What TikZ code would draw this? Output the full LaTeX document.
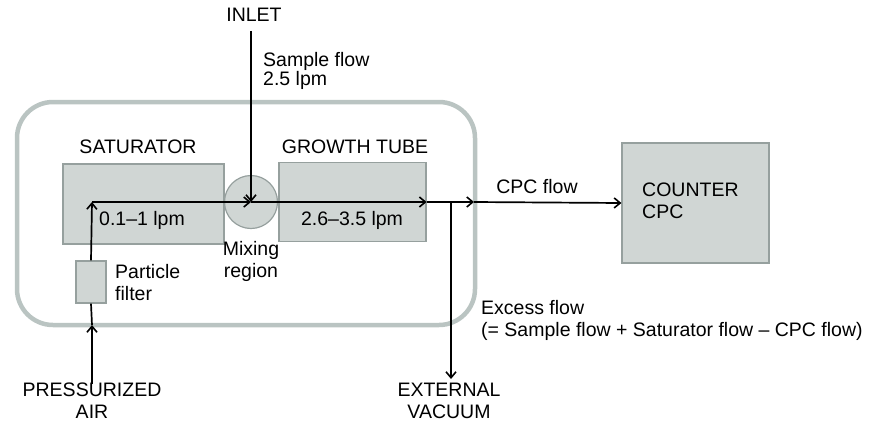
\documentclass[tikz,border=0pt]{standalone}
\usepackage{fontspec}
\setmainfont{Liberation Sans}
\usepackage{tikz}
\usetikzlibrary{arrows.meta, positioning}
\definecolor{boxgray}{RGB}{208,214,212}
\definecolor{edgegray}{RGB}{150,160,158}
\definecolor{wallgray}{RGB}{186,196,194}

\begin{document}
\begin{tikzpicture}[x=1pt, y=-1pt,
		font=\fontsize{19.5}{22}\selectfont,
		box/.style={draw=edgegray, fill=boxgray, line width=1.2pt, inner sep=0pt},
		flow/.style={line width=1.7pt, -{Straight Barb[length=6pt, width=10pt, line width=1.6pt]}},
		pipe/.style={line width=1.7pt},
		lbl/.style={inner sep=0pt, align=left}]
		\useasboundingbox (0,0) rectangle (877,426);
		% instrument housing
		\draw[wallgray, line width=4.5pt, rounded corners=36pt] (17,102) rectangle (475,325);
		% boxes
		\node[box, minimum width=161pt, minimum height=80pt] (sat) at (143.5,204) {};
		\node[box, minimum width=147pt, minimum height=79pt] (grow) at (352.5,202) {};
		\node[box, circle, minimum size=53pt] (mix) at (251,202) {};
		\node[box, minimum width=30pt, minimum height=42pt] (filt) at (91,282) {};
		\node[box, minimum width=147pt, minimum height=120pt] (ctr) at (695.5,203) {};
		% labels
		\node[lbl] (inlet) at (254,15) {INLET};
		\node[lbl, anchor=west, font=\fontsize{19.5}{17}\selectfont] (sample) at (263,71) {Sample flow\\2.5 lpm};
		\node[lbl] (satlbl) at (138,147) {SATURATOR};
		\node[lbl] (growlbl) at (355,147) {GROWTH TUBE};
		\node[lbl, anchor=west] (satflow) at (99,220) {0.1--1 lpm};
		\node[lbl] (growflow) at (352,220) {2.6--3.5 lpm};
		\node[lbl, align=center] (mixlbl) at (251,261) {Mixing\\region};
		\node[lbl, anchor=west] (filtlbl) at (115,283) {Particle\\filter};
		\node[lbl] (cpcflow) at (537,187) {CPC flow};
		\node[lbl, anchor=west] (ctrlbl) at (642,201) {COUNTER\\CPC};
		\node[lbl, anchor=west] (excess) at (481,320) {Excess flow\\(= Sample flow + Saturator flow -- CPC flow)};
		\node[lbl, align=center] (air) at (92,401) {PRESSURIZED\\AIR};
		\node[lbl, align=center] (vaclbl) at (449,401) {EXTERNAL\\VACUUM};
		% flow path
		\coordinate (airin) at (92,384);
		\coordinate (airtip) at (92,325);
		\coordinate (corner) at (92,202);
		\coordinate (wall) at (474,202);
		\coordinate (split) at (451,202);
		\coordinate (vac) at (451,379);
		\draw[flow] (airin) -- (airtip);
		\draw[pipe] (airtip) -- (filt.south);
		\draw[flow] (filt.north) -- (corner);
		\draw[flow] (corner) -- (mix.center);
		\draw[flow] (inlet.south) ++(-3,9) -- (mix.center);
		\draw[flow] (mix.center) -- (grow.east);
		\draw[flow] (grow.east) -- (wall);
		\draw[flow] (wall) -- (ctr.west);
		\draw[flow] (split) -- (vac);
	\end{tikzpicture}
\end{document}
